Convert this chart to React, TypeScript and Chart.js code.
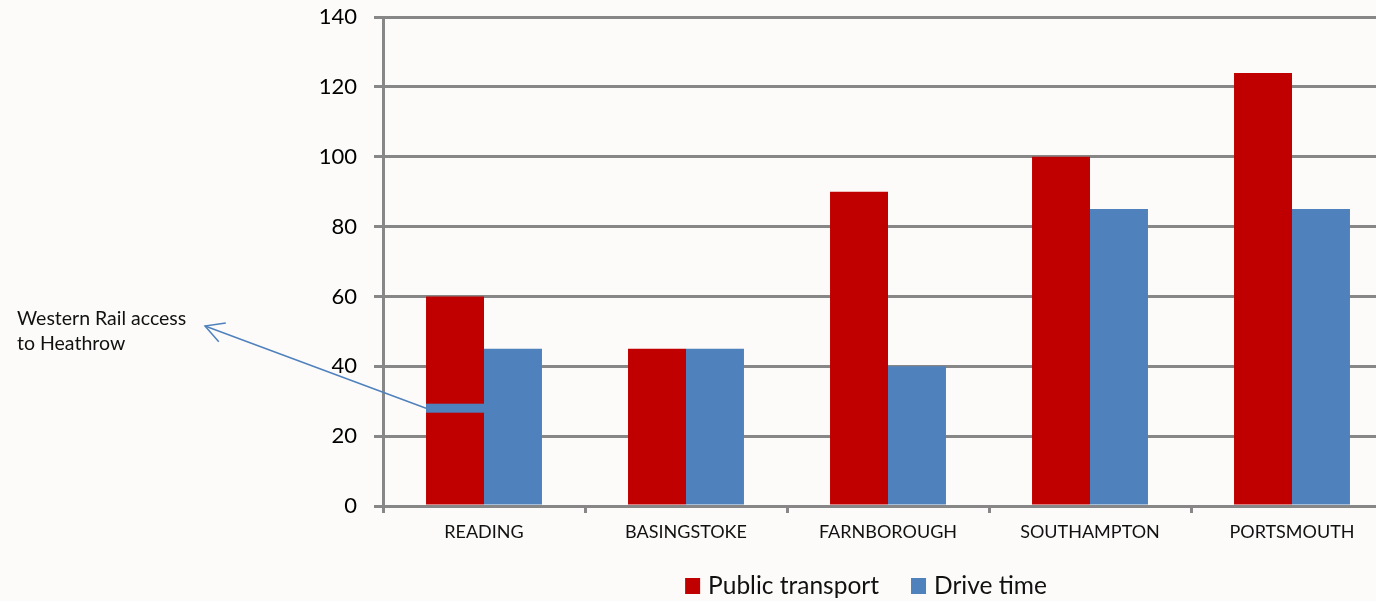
import React, { useEffect, useRef } from "react";
import { Chart, registerables } from "chart.js";

Chart.register(...registerables);

const categories = ["READING", "BASINGSTOKE", "FARNBOROUGH", "SOUTHAMPTON", "PORTSMOUTH"];
const publicTransport = [60, 45, 90, 100, 124];
const driveTime = [45, 45, 40, 85, 85];
const yTicks = [0, 20, 40, 60, 80, 100, 120, 140];
const seriesNames = ["Public transport", "Drive time"];
const annotationLines = ["Western Rail access", "to Heathrow"];
const westernRailIndex = 0;
const westernRailValue = 28;

const RED = "#C00000";
const BLUE = "#4F81BD";
const GRID = "#878787";
const BG = "#FCFBFA";
const FONT = "Lato, 'Open Sans', sans-serif";

const annotationPlugin = {
  id: "westernRail",
  afterDatasetsDraw(chart: any) {
    const ctx = chart.ctx as CanvasRenderingContext2D;
    const yScale = chart.scales.y;
    const bar: any = chart.getDatasetMeta(0).data[westernRailIndex];
    const left = bar.x - bar.width / 2;
    const right = bar.x + bar.width / 2 + 8;
    const py = yScale.getPixelForValue(westernRailValue);
    ctx.save();
    ctx.fillStyle = BLUE;
    ctx.fillRect(left, py - 4.5, right - left, 9);

    const tipX = 205;
    const tipY = 326;
    ctx.strokeStyle = BLUE;
    ctx.lineWidth = 1.5;
    ctx.beginPath();
    ctx.moveTo(left, py);
    ctx.lineTo(tipX, tipY);
    ctx.stroke();
    const ang = Math.atan2(py - tipY, left - tipX);
    const spread = 0.5;
    const len = 21;
    ctx.beginPath();
    ctx.moveTo(tipX + len * Math.cos(ang - spread), tipY + len * Math.sin(ang - spread));
    ctx.lineTo(tipX, tipY);
    ctx.lineTo(tipX + len * Math.cos(ang + spread), tipY + len * Math.sin(ang + spread));
    ctx.stroke();

    ctx.fillStyle = "#111";
    ctx.font = `19.5px ${FONT}`;
    ctx.textAlign = "left";
    ctx.textBaseline = "alphabetic";
    annotationLines.forEach((t, i) => ctx.fillText(t, 17, 325 + i * 25));
    ctx.restore();
  },
};

const legendPlugin = {
  id: "customLegend",
  afterDraw(chart: any) {
    const ctx = chart.ctx as CanvasRenderingContext2D;
    ctx.save();
    ctx.font = `24.5px ${FONT}`;
    ctx.textBaseline = "middle";
    ctx.textAlign = "left";
    const box = 16;
    const gapText = 7;
    const gapItem = 32;
    const items = chart.data.datasets.map((d: any) => ({
      text: d.label as string,
      color: d.backgroundColor as string,
      w: ctx.measureText(d.label).width,
    }));
    const total =
      items.reduce((s: number, it: any) => s + box + gapText + it.w, 0) + gapItem * (items.length - 1);
    let x = 866 - total / 2;
    const cy = 586;
    items.forEach((it: any) => {
      ctx.fillStyle = it.color;
      ctx.fillRect(x, cy - box / 2, box - 1, box);
      ctx.fillStyle = "#111";
      ctx.fillText(it.text, x + box + gapText, cy);
      x += box + gapText + it.w + gapItem;
    });
    ctx.restore();
  },
};

export default function App() {
  const ref = useRef<HTMLCanvasElement | null>(null);

  useEffect(() => {
    if (!ref.current) return;
    const chart = new Chart(ref.current, {
      type: "bar",
      data: {
        labels: categories,
        datasets: [
          {
            label: seriesNames[0],
            data: publicTransport,
            backgroundColor: RED,
            borderWidth: 0,
            barPercentage: 1,
            categoryPercentage: 0.574,
          },
          {
            label: seriesNames[1],
            data: driveTime,
            backgroundColor: BLUE,
            borderWidth: 0,
            barPercentage: 1,
            categoryPercentage: 0.574,
          },
        ],
      },
      options: {
        animation: false,
        responsive: false,
        devicePixelRatio: 1,
        layout: { padding: { left: 0, right: 7, top: 17, bottom: 55 } },
        plugins: {
          legend: { display: false },
          tooltip: { enabled: false },
          title: { display: false },
        },
        scales: {
          x: {
            grid: {
              display: true,
              drawOnChartArea: false,
              drawTicks: true,
              tickLength: 7,
              color: GRID,
              lineWidth: 3,
              offset: true,
            },
            border: { display: true, color: GRID, width: 3 },
            ticks: {
              font: { family: FONT, size: 18 },
              color: "#111",
              padding: 8,
              maxRotation: 0,
              autoSkip: false,
            },
            afterFit(s: any) {
              s.height = 40;
              s.paddingLeft = 0;
              s.paddingRight = 0;
            },
          },
          y: {
            min: 0,
            max: 140,
            afterBuildTicks(s: any) {
              s.ticks = yTicks.map((v) => ({ value: v }));
            },
            ticks: {
              font: { family: FONT, size: 22 },
              color: "#000",
              padding: 17,
            },
            grid: {
              color: GRID,
              lineWidth: 3,
              tickLength: 9,
              drawTicks: true,
            },
            border: { display: true, color: GRID, width: 3 },
            afterFit(s: any) {
              s.width = 383;
              s.paddingTop = 0;
              s.paddingBottom = 0;
            },
          },
        },
      },
      plugins: [annotationPlugin, legendPlugin],
    });
    return () => chart.destroy();
  }, []);

  return (
    <div
      style={{
        position: "fixed",
        left: 0,
        top: 0,
        width: 1376,
        height: 601,
        overflow: "hidden",
        background: BG,
      }}
    >
      <canvas ref={ref} width={1400} height={601} style={{ display: "block" }} />
    </div>
  );
}
